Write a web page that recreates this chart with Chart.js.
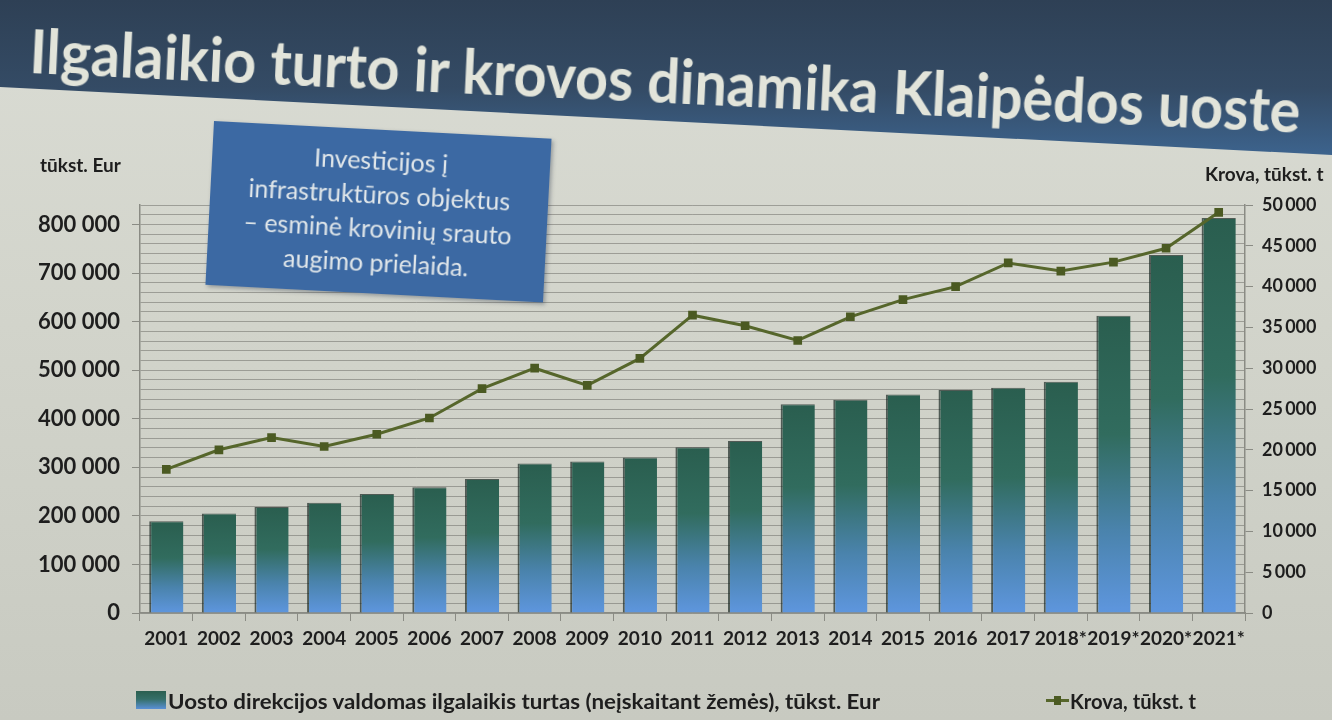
<!DOCTYPE html>
<html lang="lt">

<head>
  <meta charset="UTF-8">
  <title>Ilgalaikio turto ir krovos dinamika Klaipėdos uoste</title>
  <script src="https://cdn.jsdelivr.net/npm/chart.js"></script>
  <style>
    html, body { margin: 0; padding: 0; }
    body {
      width: 1332px; height: 720px; overflow: hidden; position: relative;
      background: linear-gradient(180deg, #dadcd4 0%, #d2d4cb 45%, #c8cac1 100%);
      font-family: Lato, "Open Sans", sans-serif;
    }
    .band {
      position: absolute; left: 0; top: 0; width: 1332px; height: 160px; z-index: 0;
      background: linear-gradient(180deg, #2e4055 0%, #344b65 55%, #3d6590 100%);
      clip-path: polygon(0 0, 100% 0, 100% 155px, 0 87px);
    }
    .title {
      position: absolute; left: 30px; top: 18px; z-index: 3;
      font-size: 62px; line-height: 62px; font-weight: 700; color: #e2e4da;
      white-space: nowrap; transform-origin: 0 50%;
    }
    canvas { position: absolute; left: 0; top: 0; z-index: 1; }
    .box {
      position: absolute; left: 214px; top: 121px; width: 338px; height: 164px; z-index: 4;
      background: #3c69a3; box-shadow: 2px 2px 4px rgba(30, 40, 60, 0.35);
      transform-origin: 0 0; transform: rotate(3deg);
      color: #e1e7ea; font-size: 25px; line-height: 34px; text-align: center;
      box-sizing: border-box; padding-top: 13px;
    }
    .axt { position: absolute; z-index: 2; font-weight: 700; color: #1e1e1e; font-size: 19px; white-space: nowrap; }
    .leg { position: absolute; z-index: 2; font-weight: 700; color: #1e1e1e; font-size: 21px; white-space: nowrap; transform-origin: 0 50%; }
    .swbar {
      position: absolute; left: 136px; top: 691px; width: 30px; height: 18px; z-index: 2;
      background: linear-gradient(180deg, #2b5f50 0%, #356f68 45%, #5a90d6 100%);
    }
    .swline { position: absolute; left: 1046px; top: 699px; width: 23px; height: 3px; background: #56662b; z-index: 2; }
    .swline i { position: absolute; left: 8px; top: -3px; width: 7px; height: 9px; background: #4b5a22; }
  </style>
</head>

<body>
  <div class="band"></div>
  <div class="title" id="title">Ilgalaikio turto ir krovos dinamika Klaipėdos uoste</div>

  <div class="box">Investicijos į<br>infrastruktūros objektus<br>– esminė krovinių srauto<br>augimo prielaida.</div>

  <div class="axt" style="left:40px; top:153px;">tūkst. Eur</div>
  <div class="axt" style="left:1205px; top:162px;">Krova, tūkst. t</div>

  <canvas id="grafik" width="1332" height="720"></canvas>

  <!-- legenda -->
  <div class="swbar"></div>
  <div class="leg" id="leg1" style="left:168px; top:688px;">Uosto direkcijos valdomas ilgalaikis turtas (neįskaitant žemės), tūkst. Eur</div>
  <div class="swline"><i></i></div>
  <div class="leg" id="leg2" style="left:1070px; top:688px;">Krova, tūkst. t</div>

  <script>
    // metai (su * - prognozė)
    const metai = ['2001', '2002', '2003', '2004', '2005', '2006', '2007', '2008', '2009', '2010', '2011',
      '2012', '2013', '2014', '2015', '2016', '2017', '2018*', '2019*', '2020*', '2021*'];
    // ilgalaikis turtas, tūkst. Eur (kairė ašis)
    const turtas = [189000, 205000, 218000, 227000, 245000, 259000, 276000, 308000, 312000, 320000, 341000,
      354000, 430000, 439000, 450000, 459000, 464000, 476000, 612000, 737000, 813000];
    // krova, tūkst. t (dešinė ašis)
    const krova = [17600, 20000, 21500, 20400, 21900, 23900, 27500, 30000, 27900, 31200, 36500,
      35200, 33400, 36300, 38400, 40000, 42900, 41900, 43000, 44700, 49100];
    // ašių ribos
    const kaireMax = 840000;
    const kaireZingsnis = 100000;
    const kaireSmulki = 20000;
    const desineMax = 50000;
    const desineZingsnis = 5000;

    function skaicius(v, tarpas) {
      return String(Math.round(v)).replace(/\B(?=(\d{3})+(?!\d))/g, tarpas);
    }

    // ar reikšmė yra pagrindinė padala (100 000 kartotinis)
    function pagrindine(v) {
      const k = v / kaireZingsnis;
      return Math.abs(k - Math.round(k)) < 1e-6;
    }

    // ištempia tekstą iki norimo pločio (Calibri siauresnis nei Lato)
    function pritaikyti(id, plotis, extra) {
      const el = document.getElementById(id);
      const w = el.getBoundingClientRect().width;
      el.style.transform = (extra || '') + ' scaleX(' + (plotis / w) + ')';
    }

    function stulpelioSpalva(ctx) {
      const chart = ctx.chart;
      if (!chart.chartArea || ctx.type !== 'data') return '#3a7466';
      const y = chart.scales.y;
      const virsus = y.getPixelForValue(ctx.raw);
      const apacia = y.getPixelForValue(0);
      const g = chart.ctx.createLinearGradient(0, virsus, 0, apacia);
      g.addColorStop(0, '#2a5e4f');
      g.addColorStop(0.4, '#316c5e');
      g.addColorStop(0.72, '#4a83ac');
      g.addColorStop(1, '#5e96de');
      return g;
    }

    const sriftas = { family: 'Lato', weight: 'bold' };
    const asiesSpalva = '#8a8b84';

    function piesti() {
      pritaikyti('title', 1272, 'rotate(2.7deg)');
      pritaikyti('leg1', 712);
      pritaikyti('leg2', 126);

      new Chart(document.getElementById('grafik').getContext('2d'), {
        data: {
          labels: metai,
          datasets: [
            {
              type: 'line',
              label: 'Krova, tūkst. t',
              data: krova,
              yAxisID: 'y1',
              order: 0,
              borderColor: '#56662b',
              borderWidth: 3,
              pointStyle: 'rect',
              pointRadius: 4,
              pointBackgroundColor: '#4b5a22',
              pointBorderColor: '#4b5a22',
              tension: 0
            },
            {
              type: 'bar',
              label: 'Uosto direkcijos valdomas ilgalaikis turtas (neįskaitant žemės), tūkst. Eur',
              data: turtas,
              yAxisID: 'y',
              order: 1,
              backgroundColor: stulpelioSpalva,
              borderColor: 'rgba(25, 40, 35, 0.7)',
              borderWidth: { top: 1, left: 2, right: 0, bottom: 0 },
              borderSkipped: false,
              categoryPercentage: 1,
              barPercentage: 0.65
            }
          ]
        },
        options: {
          responsive: false,
          devicePixelRatio: 1,
          animation: false,
          layout: { padding: { top: 205, bottom: 70, left: 0, right: 0 } },
          plugins: {
            legend: { display: false },
            tooltip: { enabled: false }
          },
          scales: {
            x: {
              type: 'category',
              offset: true,
              grid: { offset: true, drawOnChartArea: false, tickLength: 8, color: asiesSpalva },
              border: { color: asiesSpalva, width: 1.5 },
              ticks: { color: '#1e1e1e', font: { ...sriftas, size: 19 }, padding: 6, maxRotation: 0, autoSkip: false },
              afterFit: function (s) { s.height = 37; }
            },
            y: {
              type: 'linear',
              position: 'left',
              min: 0,
              max: kaireMax,
              grid: {
                color: 'rgba(112, 112, 106, 0.55)',
                tickLength: 8,
                tickColor: function (c) { return c.tick && pagrindine(c.tick.value) ? asiesSpalva : 'rgba(0,0,0,0)'; }
              },
              border: { color: asiesSpalva, width: 1.5 },
              ticks: {
                stepSize: kaireSmulki,
                autoSkip: false,
                color: '#1e1e1e',
                font: { ...sriftas, size: 22 },
                padding: 12,
                callback: function (v) { return pagrindine(v) ? skaicius(v, ' ') : ''; }
              },
              afterFit: function (s) { s.width = 140; }
            },
            y1: {
              type: 'linear',
              position: 'right',
              min: 0,
              max: desineMax,
              grid: { drawOnChartArea: false, tickLength: 8, color: asiesSpalva },
              border: { color: asiesSpalva, width: 1.5 },
              ticks: {
                stepSize: desineZingsnis,
                color: '#1e1e1e',
                font: { ...sriftas, size: 18 },
                padding: 9,
                callback: function (v) { return skaicius(v, '\u2009'); }
              },
              afterFit: function (s) { s.width = 87; }
            }
          }
        }
      });
    }

    document.fonts.load('bold 20px Lato').then(piesti, piesti);
  </script>
</body>

</html>
